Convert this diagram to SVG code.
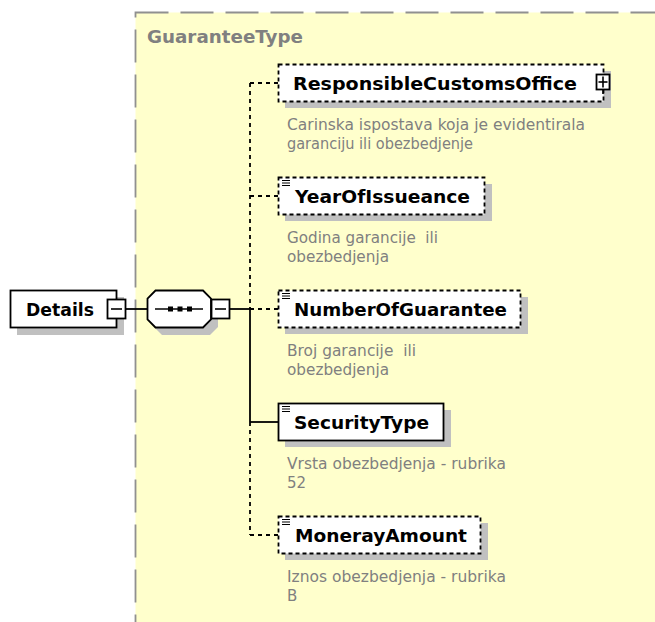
<svg xmlns="http://www.w3.org/2000/svg" width="655" height="622" viewBox="0 0 655 622">
<style>
.shadow{fill:#c0c0c0}
.box{fill:#fff;stroke:#000;stroke-width:1.8}
.opt{stroke-dasharray:4 3}
.name{font-family:"DejaVu Sans",Verdana,sans-serif;font-weight:bold;font-size:18px;fill:#000}
.desc{font-family:"DejaVu Sans",Verdana,sans-serif;font-size:15px;fill:#808080}
.conn{stroke:#000;stroke-width:1.8;fill:none}
.dash{stroke-dasharray:4 4}
.icon{stroke:#000;stroke-width:1;fill:none}
.sym{stroke:#000;stroke-width:1.6;fill:none}
</style>
<rect x="0" y="0" width="655" height="622" fill="#fff"/>
<g id="GuaranteeType">
<rect x="135.5" y="12.5" width="530" height="620" fill="#ffffcc" stroke="#909090" stroke-width="1.8" stroke-dasharray="33 12"/>
<text x="147" y="43" font-family="DejaVu Sans,Verdana,sans-serif" font-weight="bold" font-size="17" fill="#808080" textLength="156" lengthAdjust="spacingAndGlyphs">GuaranteeType</text>
</g>
<g id="connectors">
<line class="conn" x1="125.5" y1="309" x2="147.5" y2="309"/>
<line class="conn" x1="230" y1="309" x2="250" y2="309"/>
<line class="conn dash" x1="250" y1="83" x2="250" y2="309"/>
<line class="conn" x1="250" y1="309" x2="250" y2="422"/>
<line class="conn dash" x1="250" y1="422" x2="250" y2="535"/>
<line class="conn dash" x1="250" y1="83" x2="278" y2="83"/>
<line class="conn dash" x1="250" y1="196" x2="278" y2="196"/>
<line class="conn dash" x1="250" y1="309" x2="278" y2="309"/>
<line class="conn" x1="250" y1="422" x2="278" y2="422"/>
<line class="conn dash" x1="250" y1="535" x2="278" y2="535"/>
</g>
<g id="Details">
<rect class="shadow" x="17" y="297" width="107" height="38"/>
<rect class="box" x="10.5" y="290.5" width="106" height="37"/>
<text class="name" x="26" y="316" textLength="68" lengthAdjust="spacingAndGlyphs">Details</text>
<rect class="box" x="107.5" y="299.5" width="18" height="19"/>
<line class="sym" x1="111" y1="309" x2="122" y2="309"/>
</g>
<g id="sequence">
<polygon class="shadow" points="162,297 210,297 218,305 218,327 210,335 162,335 154,327 154,305"/>
<polygon class="box" points="155.5,290.5 203,290.5 211,298.5 211,319.5 203,327.5 155.5,327.5 147.5,319.5 147.5,298.5"/>
<line class="sym" x1="155" y1="309" x2="203" y2="309"/>
<rect x="168" y="306.5" width="5" height="5" fill="#000"/>
<rect x="177.5" y="306.5" width="5" height="5" fill="#000"/>
<rect x="187" y="306.5" width="5" height="5" fill="#000"/>
<rect class="box" x="211.5" y="299.5" width="18" height="19"/>
<line class="sym" x1="215" y1="309" x2="226" y2="309"/>
</g>
<g id="ResponsibleCustomsOffice">
<rect class="shadow" x="285" y="71" width="326" height="37"/>
<rect class="box opt" x="278.5" y="64.5" width="325" height="37"/>
<text class="name" x="293" y="90" textLength="284" lengthAdjust="spacingAndGlyphs">ResponsibleCustomsOffice</text>
<rect class="box" x="596.5" y="74.5" width="13" height="15"/>
<line class="sym" x1="598.5" y1="82" x2="607.5" y2="82"/>
<line class="sym" x1="603" y1="76.5" x2="603" y2="87.5"/>
<line class="sym" x1="603" y1="89.5" x2="603" y2="94"/>
<text class="desc" x="287" y="129.5" textLength="298" lengthAdjust="spacingAndGlyphs">Carinska ispostava koja je evidentirala</text>
<text class="desc" x="287" y="148.5" textLength="186" lengthAdjust="spacingAndGlyphs">garanciju ili obezbedjenje</text>
</g>
<g id="YearOfIssueance">
<rect class="shadow" x="285" y="184" width="207" height="37"/>
<rect class="box opt" x="278.5" y="177.5" width="206" height="37"/>
<line class="icon" x1="282" y1="180.5" x2="290" y2="180.5"/>
<line class="icon" x1="282" y1="183" x2="290" y2="183"/>
<line class="icon" x1="282" y1="185.5" x2="290" y2="185.5"/>
<text class="name" x="295" y="203" textLength="175" lengthAdjust="spacingAndGlyphs">YearOfIssueance</text>
<text class="desc" x="287" y="242.5" xml:space="preserve" textLength="151" lengthAdjust="spacingAndGlyphs">Godina garancije  ili</text>
<text class="desc" x="287" y="261.5" textLength="102" lengthAdjust="spacingAndGlyphs">obezbedjenja</text>
</g>
<g id="NumberOfGuarantee">
<rect class="shadow" x="285" y="297" width="243" height="37"/>
<rect class="box opt" x="278.5" y="290.5" width="242" height="37"/>
<line class="icon" x1="282" y1="293.5" x2="290" y2="293.5"/>
<line class="icon" x1="282" y1="296" x2="290" y2="296"/>
<line class="icon" x1="282" y1="298.5" x2="290" y2="298.5"/>
<text class="name" x="294" y="316" textLength="213" lengthAdjust="spacingAndGlyphs">NumberOfGuarantee</text>
<text class="desc" x="287" y="355.5" xml:space="preserve" textLength="129" lengthAdjust="spacingAndGlyphs">Broj garancije  ili</text>
<text class="desc" x="287" y="374.5" textLength="102" lengthAdjust="spacingAndGlyphs">obezbedjenja</text>
</g>
<g id="SecurityType">
<rect class="shadow" x="285" y="410" width="166" height="37"/>
<rect class="box" x="278.5" y="403.5" width="165" height="37"/>
<line class="icon" x1="282" y1="406.5" x2="290" y2="406.5"/>
<line class="icon" x1="282" y1="409" x2="290" y2="409"/>
<line class="icon" x1="282" y1="411.5" x2="290" y2="411.5"/>
<text class="name" x="294" y="429" textLength="135" lengthAdjust="spacingAndGlyphs">SecurityType</text>
<text class="desc" x="287" y="468.5" textLength="219" lengthAdjust="spacingAndGlyphs">Vrsta obezbedjenja - rubrika</text>
<text class="desc" x="287" y="487.5">52</text>
</g>
<g id="MonerayAmount">
<rect class="shadow" x="285" y="523" width="203" height="37"/>
<rect class="box opt" x="278.5" y="516.5" width="202" height="37"/>
<line class="icon" x1="282" y1="519.5" x2="290" y2="519.5"/>
<line class="icon" x1="282" y1="522" x2="290" y2="522"/>
<line class="icon" x1="282" y1="524.5" x2="290" y2="524.5"/>
<text class="name" x="295" y="542" textLength="172" lengthAdjust="spacingAndGlyphs">MonerayAmount</text>
<text class="desc" x="287" y="581.5" textLength="219" lengthAdjust="spacingAndGlyphs">Iznos obezbedjenja - rubrika</text>
<text class="desc" x="287" y="600.5">B</text>
</g>
</svg>
